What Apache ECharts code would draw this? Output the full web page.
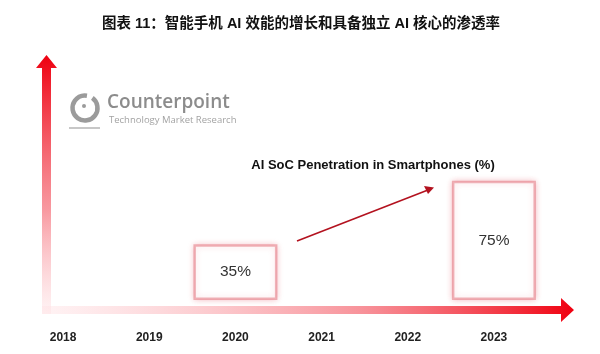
<!DOCTYPE html>
<html>
<head>
<meta charset="utf-8">
<script src="https://cdn.jsdelivr.net/npm/echarts@6/dist/echarts.min.js"></script>
<style>
  html, body { margin: 0; padding: 0; background: #fff; }
  #main { width: 600px; height: 354px; }
</style>
</head>
<body>
<div id="main"></div>
<script>
var years = ['2018', '2019', '2020', '2021', '2022', '2023'];
var penetration = ['-', '-', 35, '-', '-', 75];
var chartTitle = '图表 11：智能手机 AI 效能的增长和具备独立 AI 核心的渗透率';
var seriesTitle = 'AI SoC Penetration in Smartphones (%)';

var chart = echarts.init(document.getElementById('main'));
var LG = echarts.graphic.LinearGradient;

chart.setOption({
    backgroundColor: '#fff',
    title: {
        text: chartTitle,
        left: 296,
        textAlign: 'center',
        top: 12,
        textStyle: {
            fontFamily: 'Liberation Sans, Noto Sans CJK SC',
            fontSize: 14.5,
            fontWeight: 'bold',
            color: '#111'
        }
    },
    grid: { left: 20, right: 63, top: 141, bottom: 54 },
    xAxis: {
        type: 'category',
        data: years,
        axisLine: { show: false },
        axisTick: { show: false },
        axisLabel: {
            margin: 32,
            fontFamily: 'Liberation Sans',
            fontSize: 12,
            fontWeight: 'bold',
            color: '#222'
        }
    },
    yAxis: {
        type: 'value',
        min: 0,
        max: 100,
        show: false
    },
    series: [{
        name: seriesTitle,
        type: 'bar',
        data: penetration,
        barWidth: 84,
        itemStyle: {
            color: '#fff',
            borderColor: 'rgba(225,110,120,0.5)',
            borderWidth: 2.5,
            shadowBlur: 6,
            shadowColor: 'rgba(220,30,50,0.3)'
        },
        label: {
            show: true,
            position: 'inside',
            formatter: '{c}%',
            fontFamily: 'Liberation Sans',
            fontSize: 15.5,
            color: '#333'
        },
        silent: true
    }],
    graphic: [
        // vertical arrow
        {
            type: 'polygon',
            shape: { points: [[42, 68], [36, 68], [46.5, 55], [57, 68], [51, 68], [51, 314], [42, 314]] },
            style: { fill: new LG(0, 0, 0, 1, [
                { offset: 0, color: '#ee0010' },
                { offset: 0.6, color: 'rgba(245,110,120,0.7)' },
                { offset: 1, color: 'rgba(255,225,228,0.4)' }
            ]) }
        },
        // horizontal arrow
        {
            type: 'polygon',
            shape: { points: [[42, 306], [561, 306], [561, 298], [574, 310], [561, 322], [561, 314], [42, 314]] },
            style: { fill: new LG(0, 0, 1, 0, [
                { offset: 0, color: 'rgba(255,225,228,0.4)' },
                { offset: 0.6, color: 'rgba(245,110,120,0.75)' },
                { offset: 1, color: '#f00010' }
            ]) }
        },
        // trend arrow
        {
            type: 'line',
            shape: { x1: 297, y1: 241, x2: 428, y2: 190 },
            style: { stroke: '#b3121f', lineWidth: 1.6 }
        },
        {
            type: 'polygon',
            shape: { points: [[434, 187.5], [424, 186], [428, 194]] },
            style: { fill: '#b3121f' }
        },
        {
            type: 'text',
            x: 373, y: 165,
            style: {
                text: seriesTitle,
                align: 'center',
                verticalAlign: 'middle',
                font: 'bold 13px Liberation Sans',
                fill: '#111'
            }
        },
        // Counterpoint logo
        {
            type: 'arc',
            shape: { cx: 85, cy: 108, r: 12.5, startAngle: -Math.PI * 0.3, endAngle: Math.PI * 1.55 },
            style: { stroke: '#9b9b9b', lineWidth: 4.5, fill: null }
        },
        {
            type: 'circle',
            shape: { cx: 84, cy: 106, r: 2 },
            style: { fill: '#9b9b9b' }
        },
        {
            type: 'line',
            shape: { x1: 69, y1: 128, x2: 100, y2: 128 },
            style: { stroke: '#b5b5b5', lineWidth: 1.5 }
        },
        {
            type: 'text',
            x: 107, y: 103,
            style: {
                text: 'Counterpoint',
                verticalAlign: 'middle',
                font: '600 19px Open Sans',
                fill: '#8c8c8c'
            }
        },
        {
            type: 'text',
            x: 109, y: 120,
            style: {
                text: 'Technology Market Research',
                verticalAlign: 'middle',
                font: '9.5px Open Sans',
                fill: '#a3a3a3'
            }
        }
    ]
});
</script>
</body>
</html>
